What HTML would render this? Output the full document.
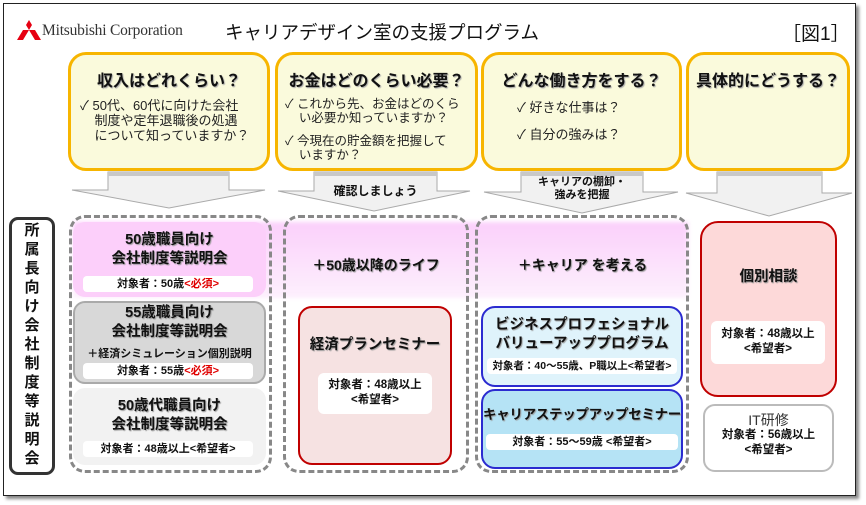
<!DOCTYPE html>
<html><head><meta charset="utf-8">
<style>
*{margin:0;padding:0;box-sizing:border-box}
body{width:866px;height:505px;background:#fff;position:relative;overflow:hidden;font-family:"Liberation Sans","Noto Sans CJK JP",sans-serif;color:#111}
.a{position:absolute}
.frame{left:3px;top:3px;width:853px;height:493px;border:1px solid #222;box-shadow:3px 3px 3px #888;background:#fff}
.q{border:3px solid #f7b500;background:#fafadc;border-radius:18px}
.qt{font-weight:bold;font-size:16px;text-align:center;text-shadow:1px 1px 1px #aaa;white-space:nowrap}
.qb{font-size:13px;line-height:15px;color:#222;white-space:nowrap}
.dash{border:3px dashed #888;border-radius:16px}
.card{border-radius:12px;text-align:center;font-weight:bold}
.ct{font-size:14.5px;line-height:19px;font-weight:bold;text-shadow:1px 1px 1px #999;white-space:nowrap}
.wb{background:#fff;border-radius:4px;font-size:11px;font-weight:bold;text-align:center;white-space:nowrap}
.red{color:#e00000}
</style></head><body>
<div class="a frame"></div>
<svg class="a" style="left:17px;top:20px" width="24" height="20" viewBox="0 0 24 20"><polygon points="12,0 15,5 12,10 9,5" fill="#e60012"/><polygon points="0,20 3,15 9,15 6,20" fill="#e60012"/><polygon points="24,20 21,15 15,15 18,20" fill="#e60012"/><polygon points="9,10 12,10 9,15 3,15 6,10" fill="#e60012"/><polygon points="15,10 12,10 15,15 21,15 18,10" fill="#e60012"/></svg>
<div class="a" style="left:42px;top:22px;font-family:'Liberation Serif',serif;font-size:15.5px;color:#333;letter-spacing:-0.2px">Mitsubishi Corporation</div>
<div class="a" style="left:225px;top:19px;font-size:18.5px;color:#111">キャリアデザイン室の支援プログラム</div>
<div class="a" style="left:782px;top:19px;font-size:19px;color:#111">［図1］</div>
<div class="a q" style="left:68px;top:52px;width:202px;height:119px"></div>
<div class="a qt" style="left:68px;top:67px;width:202px">収入はどれくらい？</div>
<div class="a qb" style="left:80px;top:98px">✓ 50代、60代に向けた会社<br>&nbsp;&nbsp;&nbsp;&nbsp;制度や定年退職後の処遇<br>&nbsp;&nbsp;&nbsp;&nbsp;について知っていますか？</div>
<div class="a q" style="left:275px;top:52px;width:203px;height:119px"></div>
<div class="a qt" style="left:275px;top:67px;width:203px">お金はどのくらい必要？</div>
<div class="a qb" style="left:285px;top:97px;font-size:12.5px;line-height:14px">✓ これから先、お金はどのくら<br>&nbsp;&nbsp;&nbsp;&nbsp;い必要か知っていますか？</div>
<div class="a qb" style="left:285px;top:134px;font-size:12.5px;line-height:14px">✓ 今現在の貯金額を把握して<br>&nbsp;&nbsp;&nbsp;&nbsp;いますか？</div>
<div class="a q" style="left:481px;top:52px;width:201px;height:119px"></div>
<div class="a qt" style="left:481px;top:67px;width:201px">どんな働き方をする？</div>
<div class="a qb" style="left:517px;top:100px">✓ 好きな仕事は？</div>
<div class="a qb" style="left:517px;top:127px">✓ 自分の強みは？</div>
<div class="a q" style="left:686px;top:52px;width:164px;height:119px"></div>
<div class="a qt" style="left:686px;top:67px;width:164px">具体的にどうする？</div>
<svg class="a" style="left:0;top:0" width="866" height="505">
<g fill="#f1f1f1" stroke="#aaa" stroke-width="1">
<polygon points="108,172 229,172 229,190 265,190 169,208 72,190 108,190"/>
<polygon points="314,172 437,172 437,191 470,191 374,211 278,191 314,191"/>
<polygon points="521,172 643,172 643,192 678,192 582,213 484,192 521,192"/>
<polygon points="717,172 822,172 822,193 852,193 769,216 686,193 717,193"/>
</g>
<g fill="#c8c8c8"><rect x="108" y="172" width="121" height="4"/><rect x="314" y="172" width="123" height="4"/><rect x="521" y="172" width="122" height="4"/><rect x="717" y="172" width="105" height="4"/></g>
</svg>
<div class="a" style="left:314px;top:182px;width:123px;text-align:center;font-size:12px;font-weight:bold">確認しましょう</div>
<div class="a" style="left:521px;top:176px;width:122px;text-align:center;font-size:11px;line-height:13px;font-weight:bold">キャリアの棚卸・<br>強みを把握</div>
<div class="a" style="left:73px;top:222px;width:615px;height:76px;background:linear-gradient(#fbd0fb,#fdf0fd);filter:blur(2px)"></div>
<div class="a" style="left:9px;top:217px;width:46px;height:258px;border:3px solid #333;border-radius:9px;background:#fff"></div>
<div class="a" style="left:9px;top:221px;width:46px;text-align:center;font-size:15px;line-height:19px;font-weight:bold">所<br>属<br>長<br>向<br>け<br>会<br>社<br>制<br>度<br>等<br>説<br>明<br>会</div>
<div class="a dash" style="left:69px;top:215px;width:203px;height:258px"></div>
<div class="a dash" style="left:283px;top:215px;width:186px;height:258px"></div>
<div class="a dash" style="left:475px;top:215px;width:214px;height:258px"></div>
<div class="a card" style="left:73px;top:222px;width:193px;height:75px;background:#fccffa"></div>
<div class="a ct" style="left:73px;top:231px;width:193px;text-align:center">50歳職員向け<br>会社制度等説明会</div>
<div class="a wb" style="left:83px;top:276px;width:170px;height:16px;line-height:16px">対象者：50歳<span class="red">&lt;必須&gt;</span></div>
<div class="a card" style="left:73px;top:301px;width:193px;height:83px;background:#d8d8d8;border:2px solid #aaa"></div>
<div class="a ct" style="left:73px;top:304px;width:193px;text-align:center">55歳職員向け<br>会社制度等説明会</div>
<div class="a" style="left:73px;top:345px;width:193px;text-align:center;font-size:11px;font-weight:bold">＋経済シミュレーション個別説明</div>
<div class="a wb" style="left:83px;top:363px;width:170px;height:16px;line-height:16px">対象者：55歳<span class="red">&lt;必須&gt;</span></div>
<div class="a card" style="left:73px;top:388px;width:193px;height:77px;background:#f2f2f2"></div>
<div class="a ct" style="left:73px;top:397px;width:193px;text-align:center">50歳代職員向け<br>会社制度等説明会</div>
<div class="a wb" style="left:83px;top:441px;width:170px;height:16px;line-height:16px">対象者：48歳以上&lt;希望者&gt;</div>
<div class="a" style="left:283px;top:255px;width:186px;text-align:center;font-size:14px;font-weight:bold;text-shadow:1px 1px 1px #999">＋50歳以降のライフ</div>
<div class="a card" style="left:298px;top:306px;width:154px;height:159px;background:#f6e2e2;border:2px solid #c00000;border-radius:14px"></div>
<div class="a ct" style="left:298px;top:336px;width:154px;text-align:center">経済プランセミナー</div>
<div class="a wb" style="left:318px;top:373px;width:114px;height:41px;line-height:15px;padding-top:5px;font-size:11.5px;border-radius:6px">対象者：48歳以上<br>&lt;希望者&gt;</div>
<div class="a" style="left:476px;top:255px;width:213px;text-align:center;font-size:14px;font-weight:bold;text-shadow:1px 1px 1px #999">＋キャリア を考える</div>
<div class="a card" style="left:481px;top:306px;width:202px;height:81px;background:#dff3fb;border:2px solid #2b2bd0;border-radius:14px"></div>
<div class="a ct" style="left:481px;top:316px;width:202px;text-align:center">ビジネスプロフェショナル<br>バリューアッププログラム</div>
<div class="a wb" style="left:487px;top:358px;width:190px;height:16px;line-height:16px;font-size:10.5px">対象者：40～55歳、P職以上&lt;希望者&gt;</div>
<div class="a card" style="left:481px;top:389px;width:202px;height:80px;background:#b5e3f5;border:2px solid #2b2bd0;border-radius:14px"></div>
<div class="a ct" style="left:481px;top:405px;width:202px;text-align:center;font-size:13.5px;letter-spacing:-0.3px">キャリアステップアップセミナー</div>
<div class="a wb" style="left:486px;top:434px;width:192px;height:16px;line-height:16px">対象者：55～59歳 &lt;希望者&gt;</div>
<div class="a card" style="left:700px;top:221px;width:137px;height:176px;background:#fdd9d9;border:2px solid #c00000;border-radius:18px"></div>
<div class="a ct" style="left:700px;top:268px;width:137px;text-align:center">個別相談</div>
<div class="a wb" style="left:711px;top:321px;width:114px;height:43px;line-height:15px;padding-top:6px;font-size:11.5px;border-radius:6px">対象者：48歳以上<br>&lt;希望者&gt;</div>
<div class="a card" style="left:703px;top:404px;width:131px;height:68px;background:#fff;border:2px solid #bbb;border-radius:12px"></div>
<div class="a" style="left:703px;top:410px;width:131px;text-align:center;font-size:14px;color:#333">IT研修</div>
<div class="a" style="left:703px;top:428px;width:131px;text-align:center;font-size:11.5px;line-height:15px;font-weight:bold">対象者：56歳以上<br>&lt;希望者&gt;</div>
</body></html>
